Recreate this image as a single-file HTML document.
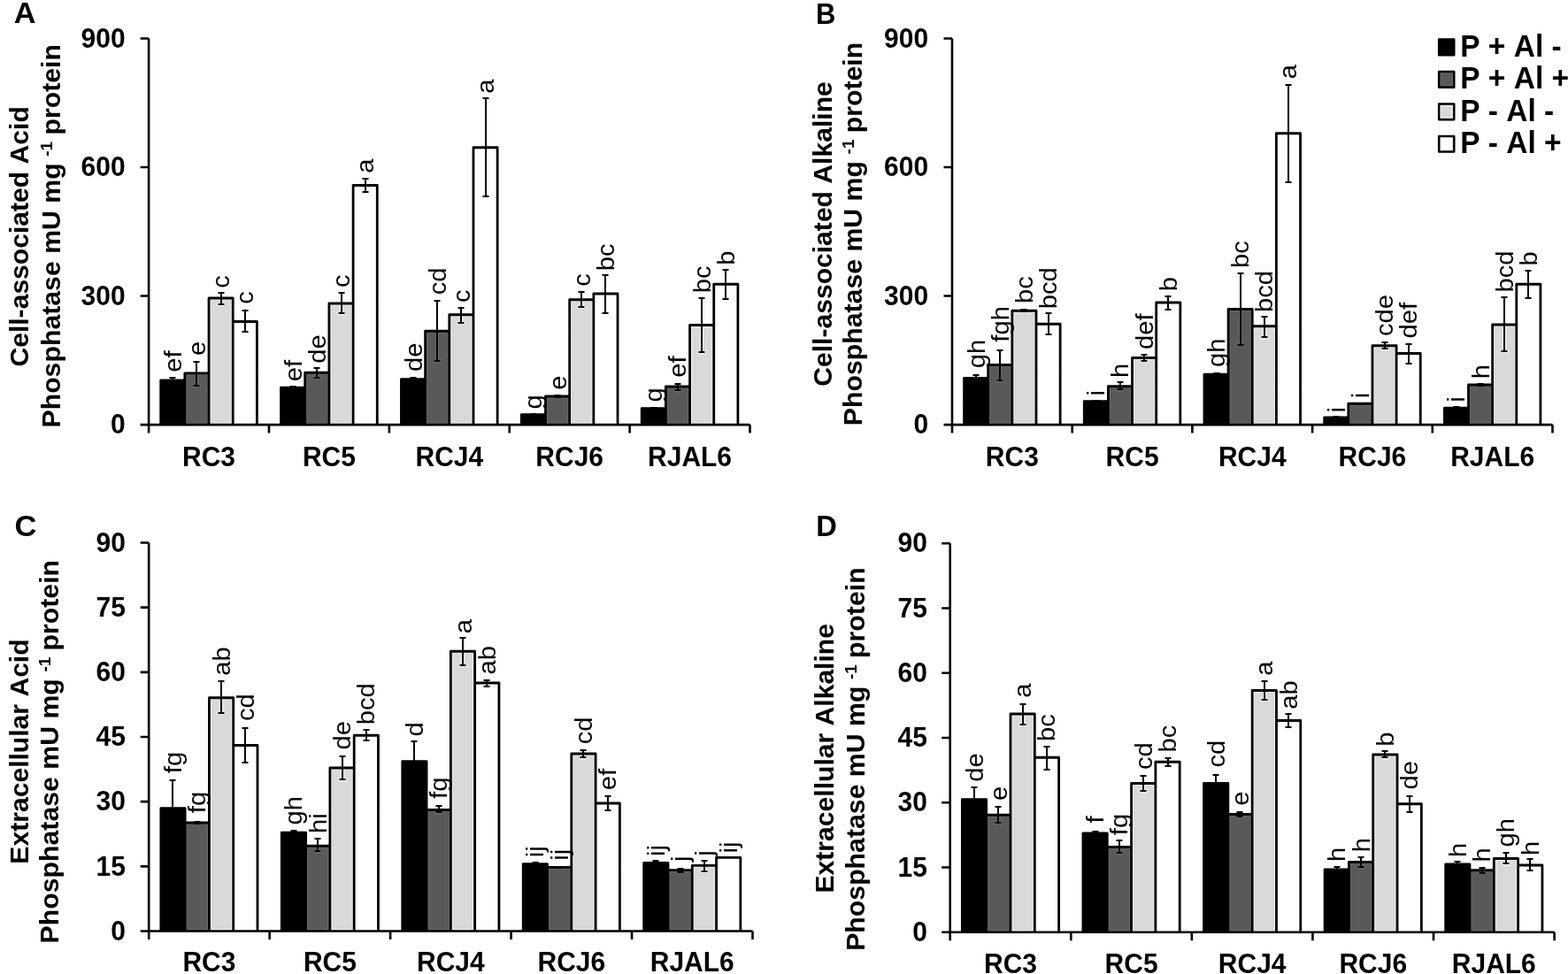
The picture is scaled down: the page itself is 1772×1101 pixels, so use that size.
<!DOCTYPE html>
<html><head><meta charset="utf-8"><title>Phosphatase activity</title>
<style>
html,body{margin:0;padding:0;background:#fff;}
body{width:1772px;height:1101px;overflow:hidden;}
svg{display:block;}
text{font-family:'Liberation Sans', Arial, sans-serif;fill:#000;font-kerning:none;}
</style></head>
<body>
<svg width="1772" height="1101" viewBox="0 0 1772 1101" font-family="&apos;Liberation Sans&apos;, Arial, sans-serif">
<rect width="1772" height="1101" fill="#fff"/>
<g class="panel">
<rect x="181.69" y="430" width="27.18" height="50.1" fill="#000000"/><rect x="208.86" y="421.8" width="27.18" height="58.3" fill="#595959"/><rect x="236.04" y="337" width="27.18" height="143.1" fill="#d9d9d9"/><rect x="263.22" y="363.5" width="27.18" height="116.6" fill="#ffffff"/><rect x="317.57" y="438.25" width="27.18" height="41.85" fill="#000000"/><rect x="344.74" y="421.25" width="27.18" height="58.85" fill="#595959"/><rect x="371.92" y="343" width="27.18" height="137.1" fill="#d9d9d9"/><rect x="399.1" y="209.5" width="27.18" height="270.6" fill="#ffffff"/><rect x="453.45" y="428.75" width="27.18" height="51.35" fill="#000000"/><rect x="480.62" y="374.25" width="27.18" height="105.85" fill="#595959"/><rect x="507.8" y="355.75" width="27.18" height="124.35" fill="#d9d9d9"/><rect x="534.98" y="166.75" width="27.18" height="313.35" fill="#ffffff"/><rect x="589.33" y="468.75" width="27.18" height="11.35" fill="#000000"/><rect x="616.5" y="448" width="27.18" height="32.1" fill="#595959"/><rect x="643.68" y="338.75" width="27.18" height="141.35" fill="#d9d9d9"/><rect x="670.86" y="332" width="27.18" height="148.1" fill="#ffffff"/><rect x="725.21" y="461.75" width="27.18" height="18.35" fill="#000000"/><rect x="752.38" y="437" width="27.18" height="43.1" fill="#595959"/><rect x="779.56" y="367.5" width="27.18" height="112.6" fill="#d9d9d9"/><rect x="806.74" y="321.25" width="27.18" height="158.85" fill="#ffffff"/>
<rect x="210.76" y="423.7" width="23.38" height="54.6" fill="none" stroke="#6a6a6a" stroke-width="1"/><path d="M222.45 423.2V438.1" stroke="#6a6a6a" stroke-width="4" fill="none"/><rect x="217.95" y="434.1" width="9" height="4" fill="#6a6a6a"/><rect x="237.94" y="338.9" width="23.38" height="139.4" fill="none" stroke="#f2f2f2" stroke-width="1"/><path d="M249.63 338.4V345.75" stroke="#f2f2f2" stroke-width="4" fill="none"/><rect x="245.13" y="341.75" width="9" height="4" fill="#f2f2f2"/><rect x="346.64" y="423.15" width="23.38" height="55.15" fill="none" stroke="#6a6a6a" stroke-width="1"/><path d="M358.33 422.65V428.75" stroke="#6a6a6a" stroke-width="4" fill="none"/><rect x="353.83" y="424.75" width="9" height="4" fill="#6a6a6a"/><rect x="373.82" y="344.9" width="23.38" height="133.4" fill="none" stroke="#f2f2f2" stroke-width="1"/><path d="M385.51 344.4V356.25" stroke="#f2f2f2" stroke-width="4" fill="none"/><rect x="381.01" y="352.25" width="9" height="4" fill="#f2f2f2"/><rect x="482.52" y="376.15" width="23.38" height="102.15" fill="none" stroke="#6a6a6a" stroke-width="1"/><path d="M494.21 375.65V410.25" stroke="#6a6a6a" stroke-width="4" fill="none"/><rect x="489.71" y="406.25" width="9" height="4" fill="#6a6a6a"/><rect x="509.7" y="357.65" width="23.38" height="120.65" fill="none" stroke="#f2f2f2" stroke-width="1"/><path d="M521.39 357.15V367" stroke="#f2f2f2" stroke-width="4" fill="none"/><rect x="516.89" y="363" width="9" height="4" fill="#f2f2f2"/><rect x="618.4" y="449.9" width="23.38" height="28.4" fill="none" stroke="#6a6a6a" stroke-width="1"/><rect x="645.58" y="340.65" width="23.38" height="137.65" fill="none" stroke="#f2f2f2" stroke-width="1"/><path d="M657.27 340.15V349" stroke="#f2f2f2" stroke-width="4" fill="none"/><rect x="652.77" y="345" width="9" height="4" fill="#f2f2f2"/><rect x="754.28" y="438.9" width="23.38" height="39.4" fill="none" stroke="#6a6a6a" stroke-width="1"/><path d="M765.97 438.4V443.25" stroke="#6a6a6a" stroke-width="4" fill="none"/><rect x="761.47" y="439.25" width="9" height="4" fill="#6a6a6a"/><rect x="781.46" y="369.4" width="23.38" height="108.9" fill="none" stroke="#f2f2f2" stroke-width="1"/><path d="M793.15 368.9V400.25" stroke="#f2f2f2" stroke-width="4" fill="none"/><rect x="788.65" y="396.25" width="9" height="4" fill="#f2f2f2"/>
<path fill="none" stroke="#000" stroke-width="2.8" stroke-linejoin="round" d="M181.69 480.1V430H208.86V480.1M208.86 480.1V421.8H236.04V480.1M236.04 480.1V337H263.22V480.1M263.22 480.1V363.5H290.39V480.1M317.57 480.1V438.25H344.74V480.1M344.74 480.1V421.25H371.92V480.1M371.92 480.1V343H399.1V480.1M399.1 480.1V209.5H426.27V480.1M453.45 480.1V428.75H480.62V480.1M480.62 480.1V374.25H507.8V480.1M507.8 480.1V355.75H534.98V480.1M534.98 480.1V166.75H562.15V480.1M589.33 480.1V468.75H616.5V480.1M616.5 480.1V448H643.68V480.1M643.68 480.1V338.75H670.86V480.1M670.86 480.1V332H698.03V480.1M725.21 480.1V461.75H752.38V480.1M752.38 480.1V437H779.56V480.1M779.56 480.1V367.5H806.74V480.1M806.74 480.1V321.25H833.91V480.1"/>
<path fill="none" stroke="#000" stroke-width="2.0" d="M195 427V433M191.5 427h7M191.5 433h7M222 409V436M218.5 409h7M218.5 436h7M250 331V344M246.5 331h7M246.5 344h7M277 351V375M273.5 351h7M273.5 375h7M331 437V439M327.5 437h7M327.5 439h7M358 416V427M354.5 416h7M354.5 427h7M386 331V354M382.5 331h7M382.5 354h7M413 202V217M409.5 202h7M409.5 217h7M467 427V430M463.5 427h7M463.5 430h7M494 340V408M490.5 340h7M490.5 408h7M521 348V365M517.5 348h7M517.5 365h7M549 111V222M545.5 111h7M545.5 222h7M603 468V470M599.5 468h7M599.5 470h7M630 447V449M626.5 447h7M626.5 449h7M657 330V347M653.5 330h7M653.5 347h7M684 311V354M680.5 311h7M680.5 354h7M739 461V462M735.5 461h7M735.5 462h7M766 434V441M762.5 434h7M762.5 441h7M793 337V398M789.5 337h7M789.5 398h7M820 305V338M816.5 305h7M816.5 338h7"/>
<path fill="none" stroke="#000" stroke-width="2.6" d="M168.1 43.5V480.1H847.5M158.6 480.1H168.1M158.6 334.57H168.1M158.6 189.03H168.1M158.6 43.5H168.1M168.1 480.1V489.6M303.98 480.1V489.6M439.86 480.1V489.6M575.74 480.1V489.6M711.62 480.1V489.6M847.5 480.1V489.6"/>
<g font-size="30" font-weight="bold" text-anchor="end"><text transform="translate(141.6 490.3) scale(1 1.041)">0</text><text transform="translate(141.6 344.77) scale(1 1.041)">300</text><text transform="translate(141.6 199.23) scale(1 1.041)">600</text><text transform="translate(141.6 53.7) scale(1 1.041)">900</text></g>
<g font-size="30" font-weight="bold" text-anchor="middle"><text transform="translate(236.04 527) scale(1 1.041)">RC3</text><text transform="translate(371.92 527) scale(1 1.041)">RC5</text><text transform="translate(507.8 527) scale(1 1.041)">RCJ4</text><text transform="translate(643.68 527) scale(1 1.041)">RCJ6</text><text transform="translate(779.56 527) scale(1 1.041)">RJAL6</text></g>
<g font-size="28"><text transform="translate(204.78 420.68) rotate(-90) scale(1.04 1)">ef</text><text transform="translate(231.95 401.88) rotate(-90) scale(1.04 1)">e</text><text transform="translate(259.13 325.68) rotate(-90) scale(1.04 1)">c</text><text transform="translate(286.3 343.68) rotate(-90) scale(1.04 1)">c</text><text transform="translate(340.66 431.18) rotate(-90) scale(1.04 1)">ef</text><text transform="translate(367.83 410.68) rotate(-90) scale(1.04 1)">de</text><text transform="translate(395.01 324.93) rotate(-90) scale(1.04 1)">c</text><text transform="translate(422.18 195.68) rotate(-90) scale(1.04 1)">a</text><text transform="translate(476.54 419.93) rotate(-90) scale(1.04 1)">de</text><text transform="translate(503.71 333.18) rotate(-90) scale(1.04 1)">cd</text><text transform="translate(530.89 341.93) rotate(-90) scale(1.04 1)">c</text><text transform="translate(558.06 105.68) rotate(-90) scale(1.04 1)">a</text><text transform="translate(612.42 462.43) rotate(-90) scale(1.04 1)">g</text><text transform="translate(639.59 440.68) rotate(-90) scale(1.04 1)">e</text><text transform="translate(666.77 323.68) rotate(-90) scale(1.04 1)">c</text><text transform="translate(693.94 306.29) rotate(-90) scale(1.04 1)">bc</text><text transform="translate(748.3 454.43) rotate(-90) scale(1.04 1)">g</text><text transform="translate(775.47 426.68) rotate(-90) scale(1.04 1)">ef</text><text transform="translate(802.65 331.29) rotate(-90) scale(1.04 1)">bc</text><text transform="translate(829.82 299.79) rotate(-90) scale(1.04 1)">b</text></g>
<g font-size="30.1" font-weight="bold" text-anchor="middle">
<text transform="translate(32.4 267.4) rotate(-90)">Cell-associated Acid</text>
<text transform="translate(67.5 266.8) rotate(-90)" font-size="30.25">Phosphatase mU mg <tspan font-size="19" dy="-9" dx="-0.8">-1</tspan><tspan dy="9" dx="-1.2"> protein</tspan></text>
</g>
<text transform="translate(15.7 26.4) scale(1.07 1.041)" font-size="32" font-weight="bold">A</text>
</g>
<g class="panel">
<rect x="1089.57" y="427.5" width="27.14" height="52.6" fill="#000000"/><rect x="1116.71" y="412.5" width="27.14" height="67.6" fill="#595959"/><rect x="1143.85" y="351.25" width="27.14" height="128.85" fill="#d9d9d9"/><rect x="1170.99" y="366.25" width="27.14" height="113.85" fill="#ffffff"/><rect x="1225.27" y="453.75" width="27.14" height="26.35" fill="#000000"/><rect x="1252.41" y="436.75" width="27.14" height="43.35" fill="#595959"/><rect x="1279.55" y="404.5" width="27.14" height="75.6" fill="#d9d9d9"/><rect x="1306.69" y="342" width="27.14" height="138.1" fill="#ffffff"/><rect x="1360.97" y="423.25" width="27.14" height="56.85" fill="#000000"/><rect x="1388.11" y="349.5" width="27.14" height="130.6" fill="#595959"/><rect x="1415.25" y="368.75" width="27.14" height="111.35" fill="#d9d9d9"/><rect x="1442.39" y="150.75" width="27.14" height="329.35" fill="#ffffff"/><rect x="1496.67" y="472" width="27.14" height="8.1" fill="#000000"/><rect x="1523.81" y="456.25" width="27.14" height="23.85" fill="#595959"/><rect x="1550.95" y="390.75" width="27.14" height="89.35" fill="#d9d9d9"/><rect x="1578.09" y="399.5" width="27.14" height="80.6" fill="#ffffff"/><rect x="1632.37" y="461.25" width="27.14" height="18.85" fill="#000000"/><rect x="1659.51" y="435" width="27.14" height="45.1" fill="#595959"/><rect x="1686.65" y="367" width="27.14" height="113.1" fill="#d9d9d9"/><rect x="1713.79" y="321.25" width="27.14" height="158.85" fill="#ffffff"/>
<rect x="1118.61" y="414.4" width="23.34" height="63.9" fill="none" stroke="#6a6a6a" stroke-width="1"/><path d="M1130.28 413.9V432" stroke="#6a6a6a" stroke-width="4" fill="none"/><rect x="1125.78" y="428" width="9" height="4" fill="#6a6a6a"/><rect x="1145.75" y="353.15" width="23.34" height="125.15" fill="none" stroke="#f2f2f2" stroke-width="1"/><rect x="1254.31" y="438.65" width="23.34" height="39.65" fill="none" stroke="#6a6a6a" stroke-width="1"/><path d="M1265.98 438.15V442" stroke="#6a6a6a" stroke-width="4" fill="none"/><rect x="1261.48" y="438.15" width="9" height="3.85" fill="#6a6a6a"/><rect x="1281.45" y="406.4" width="23.34" height="71.9" fill="none" stroke="#f2f2f2" stroke-width="1"/><path d="M1293.12 405.9V410" stroke="#f2f2f2" stroke-width="4" fill="none"/><rect x="1288.62" y="406" width="9" height="4" fill="#f2f2f2"/><rect x="1390.01" y="351.4" width="23.34" height="126.9" fill="none" stroke="#6a6a6a" stroke-width="1"/><path d="M1401.68 350.9V392" stroke="#6a6a6a" stroke-width="4" fill="none"/><rect x="1397.18" y="388" width="9" height="4" fill="#6a6a6a"/><rect x="1417.15" y="370.65" width="23.34" height="107.65" fill="none" stroke="#f2f2f2" stroke-width="1"/><path d="M1428.82 370.15V383.25" stroke="#f2f2f2" stroke-width="4" fill="none"/><rect x="1424.32" y="379.25" width="9" height="4" fill="#f2f2f2"/><rect x="1525.71" y="458.15" width="23.34" height="20.15" fill="none" stroke="#6a6a6a" stroke-width="1"/><rect x="1552.85" y="392.65" width="23.34" height="85.65" fill="none" stroke="#f2f2f2" stroke-width="1"/><path d="M1564.52 392.15V396.5" stroke="#f2f2f2" stroke-width="4" fill="none"/><rect x="1560.02" y="392.5" width="9" height="4" fill="#f2f2f2"/><rect x="1661.41" y="436.9" width="23.34" height="41.4" fill="none" stroke="#6a6a6a" stroke-width="1"/><rect x="1688.55" y="368.9" width="23.34" height="109.4" fill="none" stroke="#f2f2f2" stroke-width="1"/><path d="M1700.22 368.4V399" stroke="#f2f2f2" stroke-width="4" fill="none"/><rect x="1695.72" y="395" width="9" height="4" fill="#f2f2f2"/>
<path fill="none" stroke="#000" stroke-width="2.8" stroke-linejoin="round" d="M1089.57 480.1V427.5H1116.71V480.1M1116.71 480.1V412.5H1143.85V480.1M1143.85 480.1V351.25H1170.99V480.1M1170.99 480.1V366.25H1198.13V480.1M1225.27 480.1V453.75H1252.41V480.1M1252.41 480.1V436.75H1279.55V480.1M1279.55 480.1V404.5H1306.69V480.1M1306.69 480.1V342H1333.83V480.1M1360.97 480.1V423.25H1388.11V480.1M1388.11 480.1V349.5H1415.25V480.1M1415.25 480.1V368.75H1442.39V480.1M1442.39 480.1V150.75H1469.53V480.1M1496.67 480.1V472H1523.81V480.1M1523.81 480.1V456.25H1550.95V480.1M1550.95 480.1V390.75H1578.09V480.1M1578.09 480.1V399.5H1605.23V480.1M1632.37 480.1V461.25H1659.51V480.1M1659.51 480.1V435H1686.65V480.1M1686.65 480.1V367H1713.79V480.1M1713.79 480.1V321.25H1740.93V480.1"/>
<path fill="none" stroke="#000" stroke-width="2.0" d="M1103 424V431M1099.5 424h7M1099.5 431h7M1130 396V430M1126.5 396h7M1126.5 430h7M1157 350V352M1153.5 350h7M1153.5 352h7M1185 354V378M1181.5 354h7M1181.5 378h7M1239 453V454M1235.5 453h7M1235.5 454h7M1266 432V440M1262.5 432h7M1262.5 440h7M1293 401V408M1289.5 401h7M1289.5 408h7M1320 335V350M1316.5 335h7M1316.5 350h7M1375 422V424M1371.5 422h7M1371.5 424h7M1402 309V390M1398.5 309h7M1398.5 390h7M1429 358V381M1425.5 358h7M1425.5 381h7M1456 96V206M1452.5 96h7M1452.5 206h7M1510 471V473M1506.5 471h7M1506.5 473h7M1537 456V457M1533.5 456h7M1533.5 457h7M1565 387V394M1561.5 387h7M1561.5 394h7M1592 389V411M1588.5 389h7M1588.5 411h7M1646 460V462M1642.5 460h7M1642.5 462h7M1673 434V436M1669.5 434h7M1669.5 436h7M1700 336V397M1696.5 336h7M1696.5 397h7M1727 306V337M1723.5 306h7M1723.5 337h7"/>
<path fill="none" stroke="#000" stroke-width="2.6" d="M1076 43.5V480.1H1754.5M1066.5 480.1H1076M1066.5 334.57H1076M1066.5 189.03H1076M1066.5 43.5H1076M1076 480.1V489.6M1211.7 480.1V489.6M1347.4 480.1V489.6M1483.1 480.1V489.6M1618.8 480.1V489.6M1754.5 480.1V489.6"/>
<g font-size="30" font-weight="bold" text-anchor="end"><text transform="translate(1049.1 490.3) scale(1 1.041)">0</text><text transform="translate(1049.1 344.77) scale(1 1.041)">300</text><text transform="translate(1049.1 199.23) scale(1 1.041)">600</text><text transform="translate(1049.1 53.7) scale(1 1.041)">900</text></g>
<g font-size="30" font-weight="bold" text-anchor="middle"><text transform="translate(1143.85 526.9) scale(1 1.041)">RC3</text><text transform="translate(1279.55 526.9) scale(1 1.041)">RC5</text><text transform="translate(1415.25 526.9) scale(1 1.041)">RCJ4</text><text transform="translate(1550.95 526.9) scale(1 1.041)">RCJ6</text><text transform="translate(1686.65 526.9) scale(1 1.041)">RJAL6</text></g>
<g font-size="28"><text transform="translate(1112.64 416.18) rotate(-90) scale(1.04 1)">gh</text><text transform="translate(1139.78 386.64) rotate(-90) scale(1.04 1)">fgh</text><text transform="translate(1166.92 343.04) rotate(-90) scale(1.04 1)">bc</text><text transform="translate(1194.06 349.29) rotate(-90) scale(1.04 1)">bcd</text><text transform="translate(1248.34 447.4) rotate(-90) scale(1.04 1)">i</text><text transform="translate(1275.48 426.93) rotate(-90) scale(1.04 1)">h</text><text transform="translate(1302.62 394.93) rotate(-90) scale(1.04 1)">def</text><text transform="translate(1329.76 329.29) rotate(-90) scale(1.04 1)">b</text><text transform="translate(1384.04 414.93) rotate(-90) scale(1.04 1)">gh</text><text transform="translate(1411.18 303.04) rotate(-90) scale(1.04 1)">bc</text><text transform="translate(1438.32 353.04) rotate(-90) scale(1.04 1)">bcd</text><text transform="translate(1465.46 89.18) rotate(-90) scale(1.04 1)">a</text><text transform="translate(1519.74 466.4) rotate(-90) scale(1.04 1)">i</text><text transform="translate(1546.88 450.2) rotate(-90) scale(1.04 1)">i</text><text transform="translate(1574.02 379.93) rotate(-90) scale(1.04 1)">cde</text><text transform="translate(1601.16 382.43) rotate(-90) scale(1.04 1)">def</text><text transform="translate(1655.44 454.7) rotate(-90) scale(1.04 1)">i</text><text transform="translate(1682.58 428.18) rotate(-90) scale(1.04 1)">h</text><text transform="translate(1709.72 330.54) rotate(-90) scale(1.04 1)">bcd</text><text transform="translate(1736.86 300.54) rotate(-90) scale(1.04 1)">b</text></g>
<g font-size="30.1" font-weight="bold" text-anchor="middle">
<text transform="translate(939.5 264.5) rotate(-90)">Cell-associated Alkaline</text>
<text transform="translate(974.3 264.5) rotate(-90)" font-size="30.25">Phosphatase mU mg <tspan font-size="19" dy="-9" dx="-0.8">-1</tspan><tspan dy="9" dx="-1.2"> protein</tspan></text>
</g>
<text transform="translate(922 26.6) scale(0.97 1.041)" font-size="32" font-weight="bold">B</text>
</g>
<g class="panel">
<rect x="181.85" y="913.75" width="27.29" height="138.75" fill="#000000"/><rect x="209.14" y="930" width="27.29" height="122.5" fill="#595959"/><rect x="236.43" y="788.75" width="27.29" height="263.75" fill="#d9d9d9"/><rect x="263.72" y="842.5" width="27.29" height="210" fill="#ffffff"/><rect x="318.31" y="941.25" width="27.29" height="111.25" fill="#000000"/><rect x="345.6" y="956.25" width="27.29" height="96.25" fill="#595959"/><rect x="372.89" y="868" width="27.29" height="184.5" fill="#d9d9d9"/><rect x="400.18" y="831.25" width="27.29" height="221.25" fill="#ffffff"/><rect x="454.77" y="860.75" width="27.29" height="191.75" fill="#000000"/><rect x="482.06" y="915.5" width="27.29" height="137" fill="#595959"/><rect x="509.35" y="736.25" width="27.29" height="316.25" fill="#d9d9d9"/><rect x="536.64" y="772" width="27.29" height="280.5" fill="#ffffff"/><rect x="591.23" y="976.6" width="27.29" height="75.9" fill="#000000"/><rect x="618.52" y="980.4" width="27.29" height="72.1" fill="#595959"/><rect x="645.81" y="852" width="27.29" height="200.5" fill="#d9d9d9"/><rect x="673.1" y="908" width="27.29" height="144.5" fill="#ffffff"/><rect x="727.69" y="975.5" width="27.29" height="77" fill="#000000"/><rect x="754.98" y="983.6" width="27.29" height="68.9" fill="#595959"/><rect x="782.27" y="978.3" width="27.29" height="74.2" fill="#d9d9d9"/><rect x="809.56" y="969.4" width="27.29" height="83.1" fill="#ffffff"/>
<rect x="211.04" y="931.9" width="23.49" height="118.8" fill="none" stroke="#6a6a6a" stroke-width="1"/><rect x="238.33" y="790.65" width="23.49" height="260.05" fill="none" stroke="#f2f2f2" stroke-width="1"/><path d="M250.08 790.15V807.5" stroke="#f2f2f2" stroke-width="4" fill="none"/><rect x="245.58" y="803.5" width="9" height="4" fill="#f2f2f2"/><rect x="347.5" y="958.15" width="23.49" height="92.55" fill="none" stroke="#6a6a6a" stroke-width="1"/><path d="M359.24 957.65V964.5" stroke="#6a6a6a" stroke-width="4" fill="none"/><rect x="354.74" y="960.5" width="9" height="4" fill="#6a6a6a"/><rect x="374.79" y="869.9" width="23.49" height="180.8" fill="none" stroke="#f2f2f2" stroke-width="1"/><path d="M386.54 869.4V883.25" stroke="#f2f2f2" stroke-width="4" fill="none"/><rect x="382.04" y="879.25" width="9" height="4" fill="#f2f2f2"/><rect x="483.96" y="917.4" width="23.49" height="133.3" fill="none" stroke="#6a6a6a" stroke-width="1"/><path d="M495.7 916.9V920.25" stroke="#6a6a6a" stroke-width="4" fill="none"/><rect x="491.2" y="916.9" width="9" height="3.35" fill="#6a6a6a"/><rect x="511.25" y="738.15" width="23.49" height="312.55" fill="none" stroke="#f2f2f2" stroke-width="1"/><path d="M523 737.65V754" stroke="#f2f2f2" stroke-width="4" fill="none"/><rect x="518.5" y="750" width="9" height="4" fill="#f2f2f2"/><rect x="620.42" y="982.3" width="23.49" height="68.4" fill="none" stroke="#6a6a6a" stroke-width="1"/><rect x="647.71" y="853.9" width="23.49" height="196.8" fill="none" stroke="#f2f2f2" stroke-width="1"/><path d="M659.46 853.4V858.25" stroke="#f2f2f2" stroke-width="4" fill="none"/><rect x="654.96" y="854.25" width="9" height="4" fill="#f2f2f2"/><rect x="756.88" y="985.5" width="23.49" height="65.2" fill="none" stroke="#6a6a6a" stroke-width="1"/><path d="M768.62 985V987.6" stroke="#6a6a6a" stroke-width="4" fill="none"/><rect x="764.12" y="985" width="9" height="2.6" fill="#6a6a6a"/><rect x="784.17" y="980.2" width="23.49" height="70.5" fill="none" stroke="#f2f2f2" stroke-width="1"/><path d="M795.92 979.7V986.9" stroke="#f2f2f2" stroke-width="4" fill="none"/><rect x="791.42" y="982.9" width="9" height="4" fill="#f2f2f2"/>
<path fill="none" stroke="#000" stroke-width="2.8" stroke-linejoin="round" d="M181.85 1052.5V913.75H209.14V1052.5M209.14 1052.5V930H236.43V1052.5M236.43 1052.5V788.75H263.72V1052.5M263.72 1052.5V842.5H291.01V1052.5M318.31 1052.5V941.25H345.6V1052.5M345.6 1052.5V956.25H372.89V1052.5M372.89 1052.5V868H400.18V1052.5M400.18 1052.5V831.25H427.47V1052.5M454.77 1052.5V860.75H482.06V1052.5M482.06 1052.5V915.5H509.35V1052.5M509.35 1052.5V736.25H536.64V1052.5M536.64 1052.5V772H563.93V1052.5M591.23 1052.5V976.6H618.52V1052.5M618.52 1052.5V980.4H645.81V1052.5M645.81 1052.5V852H673.1V1052.5M673.1 1052.5V908H700.39V1052.5M727.69 1052.5V975.5H754.98V1052.5M754.98 1052.5V983.6H782.27V1052.5M782.27 1052.5V978.3H809.56V1052.5M809.56 1052.5V969.4H836.85V1052.5"/>
<path fill="none" stroke="#000" stroke-width="2.0" d="M195 882V946M191.5 882h7M191.5 946h7M223 929V931M219.5 929h7M219.5 931h7M250 770V806M246.5 770h7M246.5 806h7M277 823V862M273.5 823h7M273.5 862h7M332 939V944M328.5 939h7M328.5 944h7M359 948V962M355.5 948h7M355.5 962h7M387 855V881M383.5 855h7M383.5 881h7M414 825V837M410.5 825h7M410.5 837h7M468 838V884M464.5 838h7M464.5 884h7M496 911V918M492.5 911h7M492.5 918h7M523 721V752M519.5 721h7M519.5 752h7M550 769V776M546.5 769h7M546.5 776h7M605 975V978M601.5 975h7M601.5 978h7M632 980V981M628.5 980h7M628.5 981h7M659 848V856M655.5 848h7M655.5 856h7M687 900V916M683.5 900h7M683.5 916h7M741 973V978M737.5 973h7M737.5 978h7M769 982V986M765.5 982h7M765.5 986h7M796 973V985M792.5 973h7M792.5 985h7"/>
<path fill="none" stroke="#000" stroke-width="2.6" d="M168.2 613.5V1052.5H850.5M158.7 1052.5H168.2M158.7 979.33H168.2M158.7 906.17H168.2M158.7 833H168.2M158.7 759.83H168.2M158.7 686.67H168.2M158.7 613.5H168.2M168.2 1052.5V1062M304.66 1052.5V1062M441.12 1052.5V1062M577.58 1052.5V1062M714.04 1052.5V1062M850.5 1052.5V1062"/>
<g font-size="30" font-weight="bold" text-anchor="end"><text transform="translate(141.9 1062.7) scale(1 1.041)">0</text><text transform="translate(141.9 989.53) scale(1 1.041)">15</text><text transform="translate(141.9 916.37) scale(1 1.041)">30</text><text transform="translate(141.9 843.2) scale(1 1.041)">45</text><text transform="translate(141.9 770.03) scale(1 1.041)">60</text><text transform="translate(141.9 696.87) scale(1 1.041)">75</text><text transform="translate(141.9 623.7) scale(1 1.041)">90</text></g>
<g font-size="30" font-weight="bold" text-anchor="middle"><text transform="translate(236.43 1098.3) scale(1 1.041)">RC3</text><text transform="translate(372.89 1098.3) scale(1 1.041)">RC5</text><text transform="translate(509.35 1098.3) scale(1 1.041)">RCJ4</text><text transform="translate(645.81 1098.3) scale(1 1.041)">RCJ6</text><text transform="translate(782.27 1098.3) scale(1 1.041)">RJAL6</text></g>
<g font-size="28"><text transform="translate(204.99 874.14) rotate(-90) scale(1.04 1)">fg</text><text transform="translate(232.28 919.14) rotate(-90) scale(1.04 1)">fg</text><text transform="translate(259.58 763.68) rotate(-90) scale(1.04 1)">ab</text><text transform="translate(286.87 814.93) rotate(-90) scale(1.04 1)">cd</text><text transform="translate(341.45 932.43) rotate(-90) scale(1.04 1)">gh</text><text transform="translate(368.74 941.93) rotate(-90) scale(1.04 1)">hi</text><text transform="translate(396.04 847.43) rotate(-90) scale(1.04 1)">de</text><text transform="translate(423.33 819.29) rotate(-90) scale(1.04 1)">bcd</text><text transform="translate(477.91 832.43) rotate(-90) scale(1.04 1)">d</text><text transform="translate(505.2 902.89) rotate(-90) scale(1.04 1)">fg</text><text transform="translate(532.5 716.18) rotate(-90) scale(1.04 1)">a</text><text transform="translate(559.79 762.43) rotate(-90) scale(1.04 1)">ab</text><text transform="translate(614.37 969.3) rotate(-90) scale(1.04 1)">ij</text><text transform="translate(641.66 972.8) rotate(-90) scale(1.04 1)">ij</text><text transform="translate(668.96 841.18) rotate(-90) scale(1.04 1)">cd</text><text transform="translate(696.25 893.18) rotate(-90) scale(1.04 1)">ef</text><text transform="translate(750.83 967.9) rotate(-90) scale(1.04 1)">ij</text><text transform="translate(778.12 974) rotate(-90) scale(1.04 1)">j</text><text transform="translate(805.42 967.7) rotate(-90) scale(1.04 1)">j</text><text transform="translate(832.71 964.4) rotate(-90) scale(1.04 1)">ij</text></g>
<g font-size="30.1" font-weight="bold" text-anchor="middle">
<text transform="translate(31.6 849.5) rotate(-90)">Extracellular Acid</text>
<text transform="translate(65.9 849.7) rotate(-90)" font-size="30.25">Phosphatase mU mg <tspan font-size="19" dy="-9" dx="-0.8">-1</tspan><tspan dy="9" dx="-1.2"> protein</tspan></text>
</g>
<text transform="translate(16.6 605.6) scale(1.08 1.041)" font-size="32" font-weight="bold">C</text>
</g>
<g class="panel">
<rect x="1087.36" y="903.75" width="27.32" height="150.05" fill="#000000"/><rect x="1114.67" y="921.25" width="27.32" height="132.55" fill="#595959"/><rect x="1141.99" y="807" width="27.32" height="246.8" fill="#d9d9d9"/><rect x="1169.31" y="856.25" width="27.32" height="197.55" fill="#ffffff"/><rect x="1223.94" y="942" width="27.32" height="111.8" fill="#000000"/><rect x="1251.25" y="957.5" width="27.32" height="96.3" fill="#595959"/><rect x="1278.57" y="885.5" width="27.32" height="168.3" fill="#d9d9d9"/><rect x="1305.89" y="861.25" width="27.32" height="192.55" fill="#ffffff"/><rect x="1360.52" y="885.5" width="27.32" height="168.3" fill="#000000"/><rect x="1387.83" y="920.5" width="27.32" height="133.3" fill="#595959"/><rect x="1415.15" y="780.5" width="27.32" height="273.3" fill="#d9d9d9"/><rect x="1442.47" y="814.5" width="27.32" height="239.3" fill="#ffffff"/><rect x="1497.1" y="983" width="27.32" height="70.8" fill="#000000"/><rect x="1524.41" y="974.5" width="27.32" height="79.3" fill="#595959"/><rect x="1551.73" y="853" width="27.32" height="200.8" fill="#d9d9d9"/><rect x="1579.05" y="908.75" width="27.32" height="145.05" fill="#ffffff"/><rect x="1633.68" y="977" width="27.32" height="76.8" fill="#000000"/><rect x="1660.99" y="983.75" width="27.32" height="70.05" fill="#595959"/><rect x="1688.31" y="970.5" width="27.32" height="83.3" fill="#d9d9d9"/><rect x="1715.63" y="978" width="27.32" height="75.8" fill="#ffffff"/>
<rect x="1116.57" y="923.15" width="23.52" height="128.85" fill="none" stroke="#6a6a6a" stroke-width="1"/><path d="M1128.33 922.65V932" stroke="#6a6a6a" stroke-width="4" fill="none"/><rect x="1123.83" y="928" width="9" height="4" fill="#6a6a6a"/><rect x="1143.89" y="808.9" width="23.52" height="243.1" fill="none" stroke="#f2f2f2" stroke-width="1"/><path d="M1155.65 808.4V820.75" stroke="#f2f2f2" stroke-width="4" fill="none"/><rect x="1151.15" y="816.75" width="9" height="4" fill="#f2f2f2"/><rect x="1253.15" y="959.4" width="23.52" height="92.6" fill="none" stroke="#6a6a6a" stroke-width="1"/><path d="M1264.91 958.9V966.5" stroke="#6a6a6a" stroke-width="4" fill="none"/><rect x="1260.41" y="962.5" width="9" height="4" fill="#6a6a6a"/><rect x="1280.47" y="887.4" width="23.52" height="164.6" fill="none" stroke="#f2f2f2" stroke-width="1"/><path d="M1292.23 886.9V896.25" stroke="#f2f2f2" stroke-width="4" fill="none"/><rect x="1287.73" y="892.25" width="9" height="4" fill="#f2f2f2"/><rect x="1389.73" y="922.4" width="23.52" height="129.6" fill="none" stroke="#6a6a6a" stroke-width="1"/><path d="M1401.49 921.9V925" stroke="#6a6a6a" stroke-width="4" fill="none"/><rect x="1396.99" y="921.9" width="9" height="3.1" fill="#6a6a6a"/><rect x="1417.05" y="782.4" width="23.52" height="269.6" fill="none" stroke="#f2f2f2" stroke-width="1"/><path d="M1428.81 781.9V792.75" stroke="#f2f2f2" stroke-width="4" fill="none"/><rect x="1424.31" y="788.75" width="9" height="4" fill="#f2f2f2"/><rect x="1526.31" y="976.4" width="23.52" height="75.6" fill="none" stroke="#6a6a6a" stroke-width="1"/><path d="M1538.07 975.9V982" stroke="#6a6a6a" stroke-width="4" fill="none"/><rect x="1533.57" y="978" width="9" height="4" fill="#6a6a6a"/><rect x="1553.63" y="854.9" width="23.52" height="197.1" fill="none" stroke="#f2f2f2" stroke-width="1"/><path d="M1565.39 854.4V858.25" stroke="#f2f2f2" stroke-width="4" fill="none"/><rect x="1560.89" y="854.4" width="9" height="3.85" fill="#f2f2f2"/><rect x="1662.89" y="985.65" width="23.52" height="66.35" fill="none" stroke="#6a6a6a" stroke-width="1"/><path d="M1674.65 985.15V989" stroke="#6a6a6a" stroke-width="4" fill="none"/><rect x="1670.15" y="985.15" width="9" height="3.85" fill="#6a6a6a"/><rect x="1690.21" y="972.4" width="23.52" height="79.6" fill="none" stroke="#f2f2f2" stroke-width="1"/><path d="M1701.97 971.9V978.25" stroke="#f2f2f2" stroke-width="4" fill="none"/><rect x="1697.47" y="974.25" width="9" height="4" fill="#f2f2f2"/>
<path fill="none" stroke="#000" stroke-width="2.8" stroke-linejoin="round" d="M1087.36 1053.8V903.75H1114.67V1053.8M1114.67 1053.8V921.25H1141.99V1053.8M1141.99 1053.8V807H1169.31V1053.8M1169.31 1053.8V856.25H1196.62V1053.8M1223.94 1053.8V942H1251.25V1053.8M1251.25 1053.8V957.5H1278.57V1053.8M1278.57 1053.8V885.5H1305.89V1053.8M1305.89 1053.8V861.25H1333.2V1053.8M1360.52 1053.8V885.5H1387.83V1053.8M1387.83 1053.8V920.5H1415.15V1053.8M1415.15 1053.8V780.5H1442.47V1053.8M1442.47 1053.8V814.5H1469.78V1053.8M1497.1 1053.8V983H1524.41V1053.8M1524.41 1053.8V974.5H1551.73V1053.8M1551.73 1053.8V853H1579.05V1053.8M1579.05 1053.8V908.75H1606.36V1053.8M1633.68 1053.8V977H1660.99V1053.8M1660.99 1053.8V983.75H1688.31V1053.8M1688.31 1053.8V970.5H1715.63V1053.8M1715.63 1053.8V978H1742.94V1053.8"/>
<path fill="none" stroke="#000" stroke-width="2.0" d="M1101 890V917M1097.5 890h7M1097.5 917h7M1128 912V930M1124.5 912h7M1124.5 930h7M1156 796V819M1152.5 796h7M1152.5 819h7M1183 844V870M1179.5 844h7M1179.5 870h7M1238 940V944M1234.5 940h7M1234.5 944h7M1265 950V964M1261.5 950h7M1261.5 964h7M1292 877V894M1288.5 877h7M1288.5 894h7M1320 857V866M1316.5 857h7M1316.5 866h7M1374 876V896M1370.5 876h7M1370.5 896h7M1401 918V923M1397.5 918h7M1397.5 923h7M1429 770V791M1425.5 770h7M1425.5 791h7M1456 807V822M1452.5 807h7M1452.5 822h7M1511 980V986M1507.5 980h7M1507.5 986h7M1538 969V980M1534.5 969h7M1534.5 980h7M1565 849V856M1561.5 849h7M1561.5 856h7M1593 900V918M1589.5 900h7M1589.5 918h7M1647 974V980M1643.5 974h7M1643.5 980h7M1675 981V987M1671.5 981h7M1671.5 987h7M1702 964V976M1698.5 964h7M1698.5 976h7M1729 971V984M1725.5 971h7M1725.5 984h7"/>
<path fill="none" stroke="#000" stroke-width="2.6" d="M1073.7 614.2V1053.8H1756.6M1064.2 1053.8H1073.7M1064.2 980.53H1073.7M1064.2 907.27H1073.7M1064.2 834H1073.7M1064.2 760.73H1073.7M1064.2 687.47H1073.7M1064.2 614.2H1073.7M1073.7 1053.8V1063.3M1210.28 1053.8V1063.3M1346.86 1053.8V1063.3M1483.44 1053.8V1063.3M1620.02 1053.8V1063.3M1756.6 1053.8V1063.3"/>
<g font-size="30" font-weight="bold" text-anchor="end"><text transform="translate(1047.9 1064) scale(1 1.041)">0</text><text transform="translate(1047.9 990.73) scale(1 1.041)">15</text><text transform="translate(1047.9 917.47) scale(1 1.041)">30</text><text transform="translate(1047.9 844.2) scale(1 1.041)">45</text><text transform="translate(1047.9 770.93) scale(1 1.041)">60</text><text transform="translate(1047.9 697.67) scale(1 1.041)">75</text><text transform="translate(1047.9 624.4) scale(1 1.041)">90</text></g>
<g font-size="30" font-weight="bold" text-anchor="middle"><text transform="translate(1141.99 1100.1) scale(1 1.041)">RC3</text><text transform="translate(1278.57 1100.1) scale(1 1.041)">RC5</text><text transform="translate(1415.15 1100.1) scale(1 1.041)">RCJ4</text><text transform="translate(1551.73 1100.1) scale(1 1.041)">RCJ6</text><text transform="translate(1688.31 1100.1) scale(1 1.041)">RJAL6</text></g>
<g font-size="28"><text transform="translate(1110.52 883.68) rotate(-90) scale(1.04 1)">de</text><text transform="translate(1137.83 904.93) rotate(-90) scale(1.04 1)">e</text><text transform="translate(1165.15 788.68) rotate(-90) scale(1.04 1)">a</text><text transform="translate(1192.46 838.04) rotate(-90) scale(1.04 1)">bc</text><text transform="translate(1247.1 930.39) rotate(-90) scale(1.04 1)">f</text><text transform="translate(1274.41 944.14) rotate(-90) scale(1.04 1)">fg</text><text transform="translate(1301.73 869.93) rotate(-90) scale(1.04 1)">cd</text><text transform="translate(1329.04 850.54) rotate(-90) scale(1.04 1)">bc</text><text transform="translate(1383.68 867.43) rotate(-90) scale(1.04 1)">cd</text><text transform="translate(1410.99 910.68) rotate(-90) scale(1.04 1)">e</text><text transform="translate(1438.31 763.68) rotate(-90) scale(1.04 1)">a</text><text transform="translate(1465.62 801.68) rotate(-90) scale(1.04 1)">ab</text><text transform="translate(1520.26 973.93) rotate(-90) scale(1.04 1)">h</text><text transform="translate(1547.57 963.18) rotate(-90) scale(1.04 1)">h</text><text transform="translate(1574.89 843.79) rotate(-90) scale(1.04 1)">b</text><text transform="translate(1602.2 892.43) rotate(-90) scale(1.04 1)">de</text><text transform="translate(1656.84 968.93) rotate(-90) scale(1.04 1)">h</text><text transform="translate(1684.15 974.43) rotate(-90) scale(1.04 1)">h</text><text transform="translate(1711.47 957.43) rotate(-90) scale(1.04 1)">gh</text><text transform="translate(1738.78 966.93) rotate(-90) scale(1.04 1)">h</text></g>
<g font-size="30.1" font-weight="bold" text-anchor="middle">
<text transform="translate(942.1 857.25) rotate(-90)">Extracellular Alkaline</text>
<text transform="translate(976.7 858.1) rotate(-90)" font-size="30.25">Phosphatase mU mg <tspan font-size="19" dy="-9" dx="-0.8">-1</tspan><tspan dy="9" dx="-1.2"> protein</tspan></text>
</g>
<text transform="translate(922.3 605.6) scale(1.02 1.041)" font-size="32" font-weight="bold">D</text>
</g>
<g font-size="33.5" font-weight="bold"><rect x="1626.2" y="44.6" width="17" height="17.6" fill="#000000" stroke="#000" stroke-width="2.6" stroke-linejoin="round"/><text transform="translate(1650.2 63.8) scale(1 1.02)">P + Al -</text><rect x="1626.2" y="81.05" width="17" height="17.6" fill="#595959" stroke="#000" stroke-width="2.6" stroke-linejoin="round"/><rect x="1628.3" y="83.15" width="12.8" height="13.4" fill="none" stroke="#6a6a6a" stroke-width="1"/><text transform="translate(1650.2 100.2) scale(1 1.02)">P + Al +</text><rect x="1626.2" y="117.5" width="17" height="17.6" fill="#d9d9d9" stroke="#000" stroke-width="2.6" stroke-linejoin="round"/><rect x="1628.3" y="119.6" width="12.8" height="13.4" fill="none" stroke="#f2f2f2" stroke-width="1"/><text transform="translate(1650.2 136.6) scale(1 1.02)">P - Al -</text><rect x="1626.2" y="153.95" width="17" height="17.6" fill="#ffffff" stroke="#000" stroke-width="2.6" stroke-linejoin="round"/><text transform="translate(1650.2 173) scale(1 1.02)">P - Al +</text></g>
</svg>
</body></html>
